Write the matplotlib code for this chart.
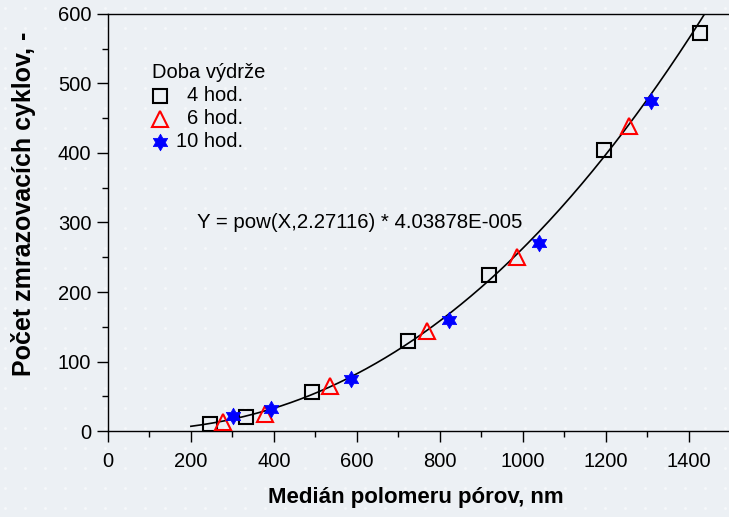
import numpy as np
import matplotlib
matplotlib.use("Agg")
import matplotlib.pyplot as plt
from matplotlib.path import Path

plt.rcParams['font.family'] = ['Liberation Sans', 'DejaVu Sans']

# ---- data ----
sq_x = [246, 332, 491, 723, 918, 1196, 1426]
sq_y = [10, 20, 56, 130, 225, 405, 572]
tri_x = [278, 378, 536, 769, 986, 1256]
tri_y = [13, 25, 65, 144, 250, 439]
star_x = [302, 394, 585, 822, 1038, 1308]
star_y = [22, 31, 75, 160, 271, 475]
fit_exp = 2.27116
fit_coef = 4.03878e-5
fit_x_start, fit_x_end = 200, 1500
x_ticks = [0, 200, 400, 600, 800, 1000, 1200, 1400]
y_ticks = [0, 100, 200, 300, 400, 500, 600]
legend_title = "Doba výdrže"
legend_labels = ["4 hod.", "6 hod.", "10 hod."]

# hexagram marker
ang = np.pi / 2 + np.arange(12) * np.pi / 6
rad = np.where(np.arange(12) % 2 == 0, 1.0, 1 / np.sqrt(3))
verts = np.column_stack([rad * np.cos(ang), rad * np.sin(ang)])
verts = np.vstack([verts, verts[:1]])
codes = [Path.MOVETO] + [Path.LINETO] * 11 + [Path.CLOSEPOLY]
hexagram = Path(verts, codes)

bg = '#ecf0f4'
fig = plt.figure(figsize=(7.29, 5.17), dpi=100, facecolor=bg)

# decorative dotted background
bgax = fig.add_axes([0, 0, 1, 1], zorder=-10)
bgax.set_xlim(0, 729)
bgax.set_ylim(517, 0)
bgax.axis('off')
gx, gy = np.meshgrid(np.arange(5, 729, 20), np.arange(8, 517, 20))
bgax.scatter(gx.ravel(), gy.ravel(), s=4, c='white', alpha=0.6, linewidths=0)

ax = fig.add_axes([0.148, 0.1663, 0.852, 0.8067])
ax.set_facecolor('none')

xf = np.linspace(fit_x_start, fit_x_end, 400)
ax.plot(xf, fit_coef * xf ** fit_exp, color='black', lw=1.2, zorder=2)

ms_sq, ms_tri, ms_star = 10, 11, 12
ax.plot(sq_x, sq_y, ls='none', marker='s', ms=ms_sq, mfc='none', mec='black', mew=1.5, zorder=3)
ax.plot(tri_x, tri_y, ls='none', marker='^', ms=ms_tri, mfc='none', mec='red', mew=1.5, zorder=3)
ax.plot(star_x, star_y, ls='none', marker=hexagram, ms=ms_star, mfc='blue', mec='blue', mew=0.5, zorder=4)

ax.set_xlim(0, 1497)
ax.set_ylim(0, 600)
ax.set_xticks(x_ticks)
ax.set_yticks(y_ticks)
ax.set_xticks(np.arange(100, 1500, 200), minor=True)
ax.set_yticks(np.arange(50, 600, 100), minor=True)
ax.tick_params(which='major', direction='out', length=8, width=1.0, labelsize=14.5)
ax.tick_params(axis='x', which='major', pad=7)
ax.tick_params(axis='y', which='major', pad=4)
ax.tick_params(which='minor', direction='out', length=4.5, width=1.0)
for s in ['left', 'bottom', 'top']:
    ax.spines[s].set_linewidth(1.0)
ax.spines['right'].set_visible(False)

fig.text(416 / 729, 1 - 497 / 517, "Medián polomeru pórov, nm", fontsize=16,
         fontweight='bold', ha='center', va='center')
fig.text(24 / 729, 1 - 204 / 517, "Počet zmrazovacích cyklov, -", fontsize=18,
         fontweight='bold', ha='center', va='center', rotation=90)

ax.text(214, 300, "Y = pow(X,2.27116) * 4.03878E-005", fontsize=14.7, ha='left', va='center')

# legend
ax.text(106, 516, legend_title, fontsize=14.5, ha='left', va='center')
leg_y = [482, 449, 416]
ax.plot([125], [leg_y[0]], ls='none', marker='s', ms=ms_sq, mfc='none', mec='black', mew=1.5)
ax.plot([125], [leg_y[1]], ls='none', marker='^', ms=ms_tri, mfc='none', mec='red', mew=1.5)
ax.plot([125], [leg_y[2]], ls='none', marker=hexagram, ms=ms_star, mfc='blue', mec='blue', mew=0.5)
for yy, lab in zip(leg_y, legend_labels):
    ax.text(326, yy, lab, fontsize=14.5, ha='right', va='center')

fig.savefig("out.png", dpi=100, facecolor=bg)
